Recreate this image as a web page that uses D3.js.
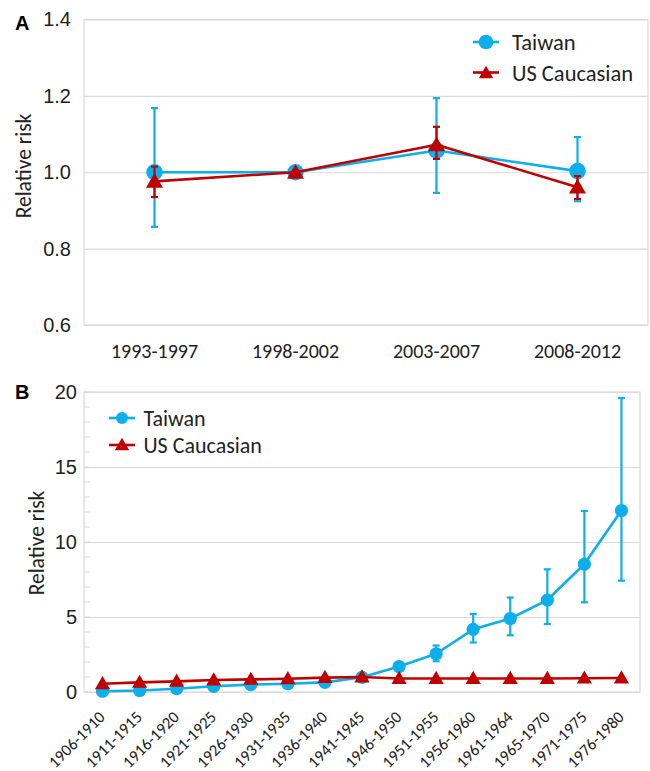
<!DOCTYPE html>
<html>
<head>
<meta charset="utf-8">
<script src="https://cdn.jsdelivr.net/npm/d3@7"></script>
<style>
  html, body { margin: 0; padding: 0; background: #fff; }
  svg { display: block; font-family: Carlito, Lato, "Open Sans", sans-serif; }
</style>
</head>
<body>
<svg id="chart" width="650" height="771"></svg>
<script>
// ---- Panel A: relative risk by diagnosis period ----
const periodsA = ["1993-1997", "1998-2002", "2003-2007", "2008-2012"];
const taiwanA = [1.0, 1.0, 1.057, 1.003];
const taiwanALow = [0.857, null, 0.946, 0.924];
const taiwanAHigh = [1.168, null, 1.194, 1.092];
const usA = [0.976, 1.0, 1.072, 0.961];
const usALow = [0.935, null, 1.035, 0.930];
const usAHigh = [1.015, null, 1.119, 0.990];
const ticksA = [0.6, 0.8, 1.0, 1.2, 1.4];

// ---- Panel B: relative risk by birth cohort ----
const cohortsB = ["1906-1910", "1911-1915", "1916-1920", "1921-1925", "1926-1930",
  "1931-1935", "1936-1940", "1941-1945", "1946-1950", "1951-1955", "1956-1960",
  "1961-1964", "1965-1970", "1971-1975", "1976-1980"];
const taiwanB = [0.05, 0.1, 0.22, 0.38, 0.49, 0.55, 0.64, 0.98, 1.7, 2.55, 4.18, 4.9, 6.13, 8.53, 12.1];
const taiwanBLow = [null, null, null, null, null, null, null, null, 1.58, 2.05, 3.3, 3.78, 4.53, 5.98, 7.42];
const taiwanBHigh = [null, null, null, null, null, null, null, null, 1.82, 3.1, 5.2, 6.3, 8.18, 12.07, 19.6];
const usB = [0.55, 0.64, 0.71, 0.8, 0.84, 0.88, 0.96, 1.0, 0.9, 0.9, 0.9, 0.9, 0.9, 0.92, 0.93];
const ticksB = [0, 5, 10, 15, 20];
const minorTicksB = d3.range(0, 21, 1);

const BLUE = "#0DAEEC";
const RED = "#C00000";
const GRID = "#d9d9d9";
const TEXT = "#222";

const svg = d3.select("#chart");

function panel(opts) {
  const g = svg.append("g");
  const x = d3.scalePoint().domain(opts.cats).range([opts.left, opts.right]).padding(0.5);
  const y = d3.scaleLinear().domain(opts.yDomain).range([opts.bottom, opts.top]);

  // minor ticks on the inside of the value axis
  if (opts.minor) {
    g.append("g").selectAll("line").data(opts.minor).join("line")
      .attr("x1", opts.left).attr("x2", opts.left + 6)
      .attr("y1", d => y(d)).attr("y2", d => y(d))
      .attr("stroke", GRID).attr("stroke-width", 1);
  }

  // gridlines + tick labels
  const yAxis = g.append("g")
    .attr("transform", `translate(${opts.left},0)`)
    .call(d3.axisLeft(y).tickValues(opts.ticks).tickFormat(opts.fmt)
      .tickSize(-(opts.right - opts.left)).tickPadding(opts.tickPad));
  yAxis.select(".domain").remove();
  yAxis.selectAll(".tick line").attr("stroke", GRID).attr("stroke-width", 1.2);
  yAxis.selectAll(".tick text").attr("fill", TEXT).style("font-size", opts.tickFont + "px");

  // plot area frame
  g.append("rect")
    .attr("x", opts.left).attr("y", opts.top)
    .attr("width", opts.right - opts.left).attr("height", opts.bottom - opts.top)
    .attr("fill", "none").attr("stroke", GRID).attr("stroke-width", 1.2);

  // category labels
  const xl = g.append("g").selectAll("text").data(opts.cats).join("text")
    .attr("fill", TEXT).style("font-size", opts.catFont + "px").text(d => d);
  if (opts.rotate) {
    xl.attr("text-anchor", "end")
      .attr("transform", d => `translate(${x(d) + 3.5},${opts.bottom + 26}) rotate(-45)`);
  } else {
    xl.attr("text-anchor", "middle").attr("x", d => x(d)).attr("y", opts.bottom + 33);
  }

  // axis title
  g.append("text")
    .attr("transform", `translate(${opts.titleX},${opts.titleY}) rotate(-90)`)
    .attr("text-anchor", "middle").attr("dy", "0.35em")
    .attr("fill", TEXT).style("font-size", "21.5px").text("Relative risk");

  // panel letter
  g.append("text").attr("x", 15).attr("y", opts.letterY)
    .attr("fill", "#000").style("font-size", "20px").style("font-weight", "bold")
    .style("font-family", "Liberation Sans, Arial, sans-serif").text(opts.letter);

  const tri = (s) => d3.symbol().type(d3.symbolTriangle).size(s)();

  function series(vals, low, high, color, kind) {
    const sg = g.append("g");
    const idx = d3.range(vals.length);
    const eb = idx.filter(i => low[i] != null);
    // error bars
    sg.selectAll(".eb").data(eb).join("line")
      .attr("x1", i => x(opts.cats[i])).attr("x2", i => x(opts.cats[i]))
      .attr("y1", i => y(low[i])).attr("y2", i => y(high[i]))
      .attr("stroke", color).attr("stroke-width", 2.2);
    sg.selectAll(".capl").data(eb).join("line")
      .attr("x1", i => x(opts.cats[i]) - 3.5).attr("x2", i => x(opts.cats[i]) + 3.5)
      .attr("y1", i => y(low[i])).attr("y2", i => y(low[i]))
      .attr("stroke", color).attr("stroke-width", 2.2);
    sg.selectAll(".caph").data(eb).join("line")
      .attr("x1", i => x(opts.cats[i]) - 3.5).attr("x2", i => x(opts.cats[i]) + 3.5)
      .attr("y1", i => y(high[i])).attr("y2", i => y(high[i]))
      .attr("stroke", color).attr("stroke-width", 2.2);
    // line
    sg.append("path")
      .attr("d", d3.line().x(i => x(opts.cats[i])).y(i => y(vals[i]))(idx))
      .attr("fill", "none").attr("stroke", color).attr("stroke-width", 2.6)
      .attr("stroke-linejoin", "round");
    // markers
    if (kind === "circle") {
      sg.selectAll("circle").data(idx).join("circle")
        .attr("cx", i => x(opts.cats[i])).attr("cy", i => y(vals[i]))
        .attr("r", opts.circleR).attr("fill", color);
    } else {
      sg.selectAll(".m").data(idx).join("path")
        .attr("transform", i => `translate(${x(opts.cats[i])},${y(vals[i]) + opts.triShift})`)
        .attr("d", tri(opts.triSize)).attr("fill", color);
    }
  }

  series(opts.tw, opts.twLow, opts.twHigh, BLUE, "circle");
  series(opts.us, opts.usLow, opts.usHigh, RED, "triangle");

  // legend
  const lg = g.append("g");
  const items = [["Taiwan", BLUE, "circle"], ["US Caucasian", RED, "triangle"]];
  items.forEach((it, k) => {
    const cy = opts.legY + k * opts.legGap;
    lg.append("line").attr("x1", opts.legX - 13).attr("x2", opts.legX + 13)
      .attr("y1", cy).attr("y2", cy).attr("stroke", it[1]).attr("stroke-width", 2.6);
    if (it[2] === "circle") {
      lg.append("circle").attr("cx", opts.legX).attr("cy", cy).attr("r", opts.legR).attr("fill", it[1]);
    } else {
      lg.append("path").attr("transform", `translate(${opts.legX},${cy + opts.triShift})`)
        .attr("d", tri(opts.legTri)).attr("fill", it[1]);
    }
    lg.append("text").attr("x", opts.legX + opts.legTextGap).attr("y", cy).attr("dy", "0.36em")
      .attr("fill", TEXT).style("font-size", opts.legFont + "px").text(it[0]);
  });
}

panel({
  letter: "A", letterY: 30, cats: periodsA, left: 84, right: 648, top: 19.5, bottom: 325,
  yDomain: [0.6, 1.4], ticks: ticksA, fmt: d3.format(".1f"), tickPad: 13, tickFont: 20,
  catFont: 20, rotate: false, titleX: 23, titleY: 166,
  tw: taiwanA, twLow: taiwanALow, twHigh: taiwanAHigh,
  us: usA, usLow: usALow, usHigh: usAHigh,
  circleR: 8.3, triSize: 125, triShift: 1.5,
  legX: 486, legY: 42, legGap: 30.5, legR: 7.3, legTri: 90, legFont: 22.5, legTextGap: 26
});

panel({
  letter: "B", letterY: 399, cats: cohortsB, left: 84, right: 640, top: 392, bottom: 692,
  yDomain: [0, 20], ticks: ticksB, fmt: d3.format("d"), tickPad: 7, tickFont: 20,
  minor: minorTicksB, catFont: 16.5, rotate: true, titleX: 36, titleY: 543,
  tw: taiwanB, twLow: taiwanBLow, twHigh: taiwanBHigh,
  us: usB, usLow: usB.map(() => null), usHigh: usB.map(() => null),
  circleR: 6.6, triSize: 100, triShift: 1,
  legX: 122, legY: 418, legGap: 27, legR: 6, legTri: 90, legFont: 22, legTextGap: 21.5
});
</script>
</body>
</html>
